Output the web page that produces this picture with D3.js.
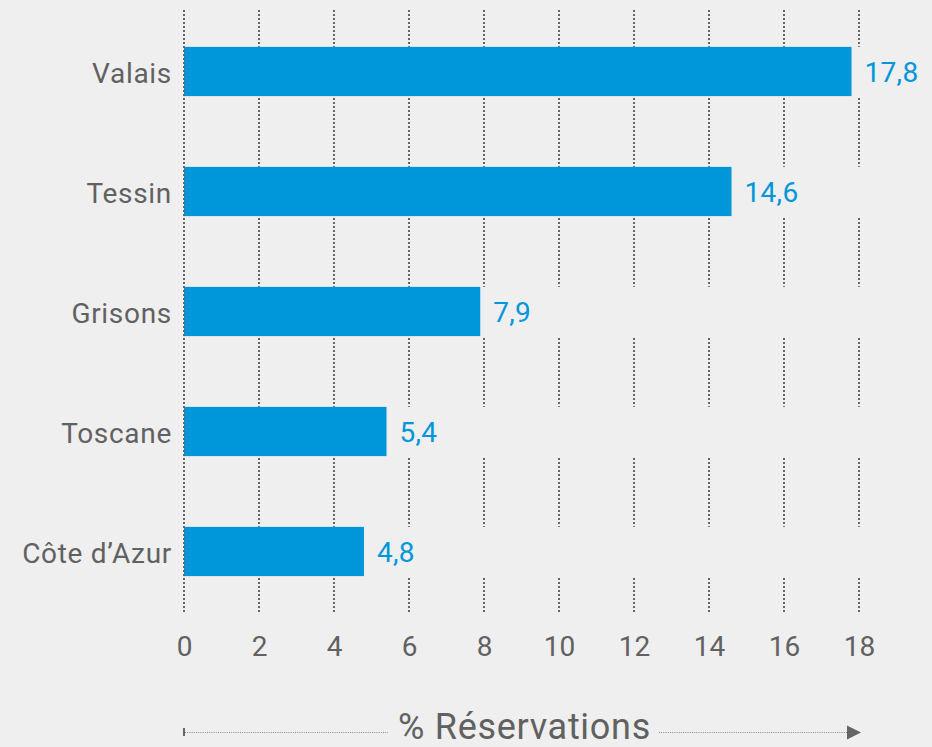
<!DOCTYPE html>
<html>
<head>
<meta charset="utf-8">
<script src="https://cdn.jsdelivr.net/npm/d3@7"></script>
<style>
  html, body { margin: 0; padding: 0; background: #efefef; }
  svg { display: block; font-family: Roboto, "Noto Sans", sans-serif; }
</style>
</head>
<body>
<div id="chart"></div>
<script>
(function(){
	var regions = ["Valais", "Tessin", "Grisons", "Toscane", "Côte d’Azur"];
	var bookings = [17.8, 14.6, 7.9, 5.4, 4.8];
	var ticks = [0, 2, 4, 6, 8, 10, 12, 14, 16, 18];
	var axisTitle = "% Réservations";

	var width = 932, height = 747;
	var blue = "#0096da", grey = "#616161", dots = "#666";

	var svg = d3.select("#chart")
				.append("svg")
				.attr("width", width)
				.attr("height", height);

	svg.append("rect")
	   .attr("width", width)
	   .attr("height", height)
	   .attr("fill", "#efefef");

	var x = d3.scaleLinear()
			  .domain([0, 18])
			  .range([184, 859]);

	var y = d3.scaleBand()
			  .domain(regions)
			  .range([11.5, 611.5])
			  .paddingInner(0.59)
			  .paddingOuter(0.295);

	// dotted gridlines (zero line drawn later, on top of bars)
	svg.append("g")
	   .selectAll("line")
	   .data(ticks.filter(function(t){ return t > 0; }))
	   .enter().append("line")
	   .attr("x1", function(d){ return x(d); })
	   .attr("x2", function(d){ return x(d); })
	   .attr("y1", 10)
	   .attr("y2", 612)
	   .attr("stroke", dots)
	   .attr("stroke-width", 2)
	   .attr("stroke-dasharray", "2,2");

	// gridlines are hidden across each bar row
	svg.append("g")
	   .selectAll("rect")
	   .data(regions)
	   .enter().append("rect")
	   .attr("x", x(0) + 2)
	   .attr("y", function(d){ return y(d); })
	   .attr("width", width - x(0))
	   .attr("height", y.bandwidth())
	   .attr("fill", "#efefef");

	var data = regions.map(function(r, i){ return {region: r, value: bookings[i]}; });

	svg.append("g")
	   .selectAll("rect")
	   .data(data)
	   .enter().append("rect")
	   .attr("x", x(0))
	   .attr("y", function(d){ return y(d.region); })
	   .attr("width", function(d){ return x(d.value) - x(0); })
	   .attr("height", y.bandwidth())
	   .attr("fill", blue);

	svg.append("line")
	   .attr("x1", x(0))
	   .attr("x2", x(0))
	   .attr("y1", 10)
	   .attr("y2", 612)
	   .attr("stroke", dots)
	   .attr("stroke-width", 2)
	   .attr("stroke-dasharray", "2,2");

	// value labels
	svg.append("g")
	   .selectAll("text")
	   .data(data)
	   .enter().append("text")
	   .attr("x", function(d){ return x(d.value) + 13; })
	   .attr("y", function(d){ return y(d.region) + y.bandwidth() / 2; })
	   .attr("dy", "0.37em")
	   .attr("fill", blue)
	   .style("font-size", "28px")
	   .style("letter-spacing", "0.3px")
	   .text(function(d){ return String(d.value).replace(".", ","); });

	// category labels
	svg.append("g")
	   .selectAll("text")
	   .data(regions)
	   .enter().append("text")
	   .attr("x", 172)
	   .attr("y", function(d){ return y(d) + y.bandwidth() / 2; })
	   .attr("dy", "0.4em")
	   .attr("text-anchor", "end")
	   .attr("fill", grey)
	   .style("font-size", "28px")
	   .style("letter-spacing", "0.7px")
	   .text(function(d){ return d; });

	// x axis tick labels
	var xAxis = d3.axisBottom(x)
				  .tickValues(ticks)
				  .tickSize(0)
				  .tickPadding(0)
				  .tickFormat(d3.format("d"));

	var ax = svg.append("g")
				.attr("transform", "translate(0,656)")
				.call(xAxis);
	ax.select(".domain").remove();
	ax.selectAll("text")
	  .attr("y", 0)
	  .attr("dy", 0)
	  .attr("fill", grey)
	  .style("font-family", "Roboto, 'Noto Sans', sans-serif")
	  .style("font-size", "28px");

	// axis title with dotted arrow
	var x0 = x(0), x1 = x(18) + 2, ty = 732.5;
	var mid = (x0 + x1) / 2 + 2;
	var title = svg.append("text")
				   .attr("x", mid)
				   .attr("y", 739)
				   .attr("text-anchor", "middle")
				   .attr("fill", grey)
				   .style("font-size", "36px")
				   .style("letter-spacing", "0.7px")
				   .text(axisTitle);
	var tw = title.node().getComputedTextLength();

	svg.append("rect")
	   .attr("x", x0 - 1)
	   .attr("y", ty - 4.5)
	   .attr("width", 2)
	   .attr("height", 8)
	   .attr("fill", dots);

	svg.append("line")
	   .attr("x1", x0 + 1)
	   .attr("x2", mid - tw / 2 - 10)
	   .attr("y1", ty)
	   .attr("y2", ty)
	   .attr("stroke", "#888")
	   .attr("stroke-width", 1)
	   .attr("stroke-dasharray", "1,1.2");

	svg.append("line")
	   .attr("x1", mid + tw / 2 + 8)
	   .attr("x2", x1 - 14)
	   .attr("y1", ty)
	   .attr("y2", ty)
	   .attr("stroke", "#888")
	   .attr("stroke-width", 1)
	   .attr("stroke-dasharray", "1,1.2");

	svg.append("path")
	   .attr("d", "M" + (x1 - 14) + "," + (ty - 7) + "L" + x1 + "," + ty + "L" + (x1 - 14) + "," + (ty + 7) + "Z")
	   .attr("fill", dots);
})();
</script>
</body>
</html>
